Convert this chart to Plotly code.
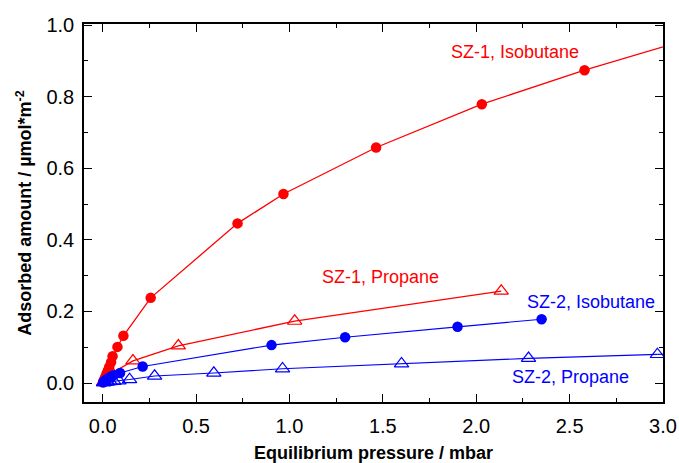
import plotly.graph_objects as go

# SZ-1, Isobutane (red filled circles)
sz1_iso_x = [0.002, 0.006, 0.012, 0.02, 0.028, 0.035, 0.045, 0.053, 0.079, 0.111, 0.257, 0.722, 0.968, 1.464, 2.03, 2.58]
sz1_iso_y = [0.002, 0.007, 0.015, 0.025, 0.035, 0.045, 0.058, 0.075, 0.101, 0.132, 0.238, 0.446, 0.528, 0.658, 0.779, 0.874]
sz1_iso_fit_x = [2.58, 3.0]
sz1_iso_fit_y = [0.874, 0.939]

# SZ-1, Propane (red open triangles)
sz1_pro_x = [0.005, 0.02, 0.05, 0.162, 0.405, 1.028, 2.134]
sz1_pro_y = [0.003, 0.012, 0.028, 0.062, 0.104, 0.173, 0.257]

# SZ-2, Isobutane (blue filled circles)
sz2_iso_x = [0.003, 0.008, 0.015, 0.025, 0.035, 0.045, 0.06, 0.093, 0.214, 0.904, 1.298, 1.90, 2.35]
sz2_iso_y = [0.002, 0.005, 0.008, 0.012, 0.015, 0.018, 0.022, 0.028, 0.046, 0.106, 0.128, 0.157, 0.178]

# SZ-2, Propane (blue open triangles)
sz2_pro_x = [0.005, 0.012, 0.025, 0.04, 0.06, 0.087, 0.144, 0.278, 0.595, 0.963, 1.60, 2.28, 2.97]
sz2_pro_y = [0.001, 0.002, 0.003, 0.004, 0.005, 0.0064, 0.010, 0.0196, 0.028, 0.040, 0.054, 0.069, 0.080]
sz2_pro_fit_x = [2.97, 3.0]
sz2_pro_fit_y = [0.080, 0.0805]

RED = "#FF0000"
BLUE = "#0000FF"

fig = go.Figure()

fig.add_trace(go.Scatter(x=sz1_iso_fit_x, y=sz1_iso_fit_y, mode="lines",
                         line=dict(color=RED, width=1.3), showlegend=False))
fig.add_trace(go.Scatter(x=sz2_pro_fit_x, y=sz2_pro_fit_y, mode="lines",
                         line=dict(color=BLUE, width=1.1), showlegend=False))

fig.add_trace(go.Scatter(x=sz1_iso_x, y=sz1_iso_y, mode="lines+markers",
                         line=dict(color=RED, width=1.3),
                         marker=dict(symbol="circle", size=10.5, color=RED),
                         showlegend=False))
fig.add_trace(go.Scatter(x=sz1_pro_x, y=sz1_pro_y, mode="lines+markers",
                         line=dict(color=RED, width=1.3),
                         marker=dict(symbol="triangle-up-open", size=12.5, color=RED,
                                     line=dict(width=1.2, color=RED)),
                         showlegend=False))
fig.add_trace(go.Scatter(x=sz2_iso_x, y=sz2_iso_y, mode="lines+markers",
                         line=dict(color=BLUE, width=1.1),
                         marker=dict(symbol="circle", size=10.5, color=BLUE),
                         showlegend=False))
fig.add_trace(go.Scatter(x=sz2_pro_x, y=sz2_pro_y, mode="lines+markers",
                         line=dict(color=BLUE, width=1.1),
                         marker=dict(symbol="triangle-up-open", size=12.5, color=BLUE,
                                     line=dict(width=1.2, color=BLUE)),
                         showlegend=False))

font_family = "Liberation Sans"

annotations = [
    dict(text="SZ-1, Isobutane", x=2.21, y=0.925, color=RED),
    dict(text="SZ-1, Propane", x=1.49, y=0.295, color=RED),
    dict(text="SZ-2, Isobutane", x=2.615, y=0.227, color=BLUE),
    dict(text="SZ-2, Propane", x=2.505, y=0.017, color=BLUE),
]
for a in annotations:
    fig.add_annotation(x=a["x"], y=a["y"], xref="x", yref="y", text=a["text"],
                       showarrow=False, xanchor="center", yanchor="middle",
                       font=dict(family=font_family, size=18, color=a["color"]))

axis_common = dict(
    showline=True, linecolor="black", linewidth=1.5, mirror="ticks",
    ticks="inside", ticklen=8, tickwidth=1.3, tickcolor="black",
    showgrid=False, zeroline=False,
    tickfont=dict(family=font_family, size=20, color="black"),
)

fig.update_xaxes(
    range=[-0.1, 3.0], dtick=0.5, tick0=0, tickformat=".1f",
    minor=dict(dtick=0.25, tick0=0, ticks="inside", ticklen=4, tickcolor="black", tickwidth=1.2),
    title=dict(text="<b>Equilibrium pressure / mbar</b>", standoff=16,
               font=dict(family=font_family, size=18, color="black")),
    ticklabelstandoff=5,
    **axis_common,
)
fig.update_yaxes(
    range=[-0.053, 1.003], dtick=0.2, tick0=0, tickformat=".1f",
    minor=dict(dtick=0.1, tick0=0, ticks="inside", ticklen=4, tickcolor="black", tickwidth=1.2),
    title=dict(text="<b>Adsorbed amount / µmol*m<sup>-2</sup></b>", standoff=10,
               font=dict(family=font_family, size=18, color="black")),
    ticklabelstandoff=4,
    **axis_common,
)

fig.update_layout(
    width=679, height=463,
    margin=dict(l=84, r=16, t=24, b=61, autoexpand=False),
    paper_bgcolor="white", plot_bgcolor="white",
    showlegend=False,
)

fig.write_html("out.html",
               config={"displayModeBar": False},
               post_script="document.body.style.margin='0';document.body.style.overflow='hidden';")
